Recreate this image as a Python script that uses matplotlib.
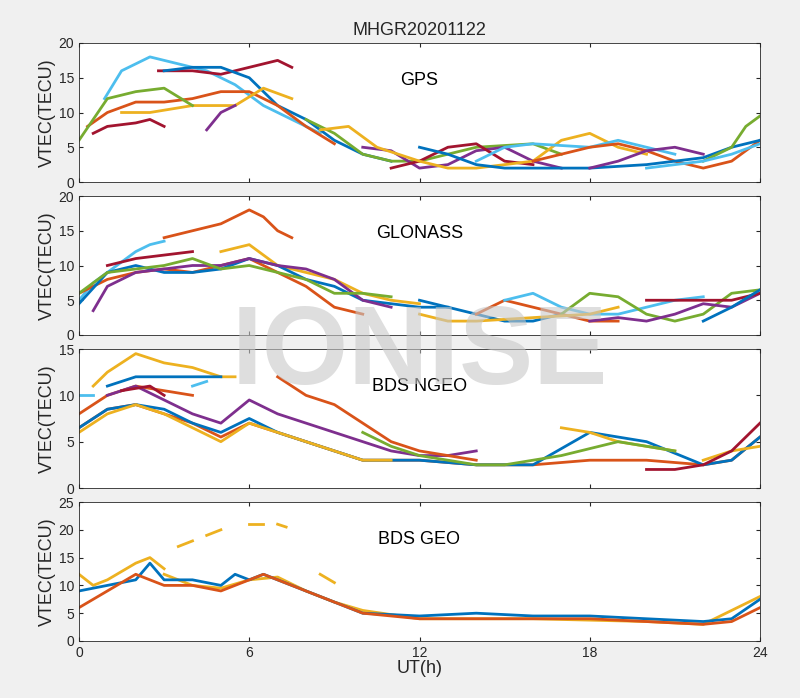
import matplotlib
matplotlib.use("Agg")
import matplotlib.pyplot as plt
plt.rcParams['font.family'] = ['Liberation Sans', 'DejaVu Sans']

C = {'b':'#0072BD','o':'#D95319','y':'#EDB120','p':'#7E2F8E','g':'#77AC30','c':'#4DBEEE','r':'#A2142F'}

# each arc: (color, [(hour, VTEC), ...])
gps_arcs = [
 ('c',[(0.9,12),(1.5,16),(2.5,18),(3.5,17),(4.5,16),(5.5,14),(6.5,11),(7.5,9),(8.5,7)]),
 ('r',[(2.8,16),(4,16),(5,15.5),(6,16.5),(7,17.5),(7.5,16.5)]),
 ('b',[(3,16),(4,16.5),(5,16.5),(6,15),(6.5,13),(7,11),(8,9),(9,6),(10,4),(11,3)]),
 ('o',[(0.3,8),(1,10),(2,11.5),(3,11.5),(4,12),(5,13),(6,13),(7,11),(8,8),(9,5.5)]),
 ('y',[(1.5,10),(2.5,10),(4,11),(5.5,11),(6.5,13.5),(7.5,12)]),
 ('p',[(4.5,7.5),(5,10),(5.5,11)]),
 ('g',[(0,6),(1,12),(2,13),(3,13.5),(4,11)]),
 ('r',[(0.5,7),(1,8),(2,8.5),(2.5,9),(3,8)]),
 ('g',[(8,9),(9,7),(10,4),(11,3),(12,3),(14,5),(16,5.5),(17,4)]),
 ('p',[(10,5),(11,4.5),(12,2),(13,2.5),(14,4.5),(15,5),(16,3),(17,2)]),
 ('r',[(11,2),(12,3),(13,5),(14,5.5),(15,3),(16,2.5)]),
 ('y',[(8.5,7.5),(9.5,8),(10.5,5),(12,3),(13,2),(14,2),(16,3),(17,6),(18,7),(19,5),(20,4)]),
 ('c',[(14,3),(15,5),(16,5.5),(18,5),(19,6),(20,5),(21,4)]),
 ('o',[(16,3),(17,4),(18,5),(19,5.5),(20,4.5),(21,3),(22,2),(23,3),(24,6)]),
 ('b',[(12,5),(13,4),(14,2.5),(15,2),(16,2),(18,2),(20,2.5),(22,3.5),(23,5),(24,6)]),
 ('g',[(22,3),(23,5),(23.5,8),(24,9.5)]),
 ('c',[(20,2),(21,2.5),(22,3),(23,4),(24,5.5)]),
 ('p',[(18,2),(19,3),(20,4.5),(21,5),(22,4)]),
]
glo_arcs = [
 ('o',[(3,14),(4,15),(5,16),(6,18),(6.5,17),(7,15),(7.5,14)]),
 ('c',[(0,5),(0.5,7.5),(1,9),(2,12),(2.5,13),(3,13.5)]),
 ('o',[(0,6),(1,8),(2,9),(3,9.5),(4,9),(5,10),(6,11),(7,9),(8,7),(9,4),(10,3)]),
 ('y',[(5,12),(6,13),(7,10),(8,9),(9,8),(10,6),(11,5),(12,4.5)]),
 ('b',[(0,4.5),(1,9),(2,10),(3,9),(4,9),(5,9.5),(6,11),(7,10),(8,8),(9,7),(10,5),(12,4),(13,4)]),
 ('p',[(0.5,3.5),(1,7),(2,9),(3,9.5),(4,10),(5,10),(6,11),(7,10),(8,9.5),(9,8),(10,5),(11,4)]),
 ('g',[(0,6),(1,9),(2,9.5),(3,10),(4,11),(5,9.5),(6,10),(7,9),(8,8),(9,6),(10,6),(11,5.5)]),
 ('r',[(1,10),(2,11),(3,11.5),(4,12)]),
 ('b',[(12,5),(13,4),(14,3),(15,2),(16,2),(17,3)]),
 ('o',[(14,3),(15,5),(16,4),(17,3),(18,2),(19,2)]),
 ('c',[(15,5),(16,6),(17,4),(18,3),(19,3),(20,4),(21,5),(22,5.5)]),
 ('g',[(17,3),(18,6),(19,5.5),(20,3),(21,2),(22,3),(23,6),(24,6.5)]),
 ('p',[(18,2),(19,2.5),(20,2),(21,3),(22,4.5),(23,4),(24,6)]),
 ('r',[(20,5),(21,5),(22,5),(23,5),(24,6)]),
 ('y',[(12,3),(13,2),(14,2),(16,2.5),(18,3),(19,4)]),
 ('b',[(22,2),(23,4),(24,6.5)]),
]
ngeo_arcs = [
 ('y',[(0.5,11),(1,12.5),(2,14.5),(3,13.5),(4,13),(5,12),(5.5,12)]),
 ('b',[(1,11),(2,12),(3,12),(4,12),(5,12)]),
 ('c',[(0,10),(0.5,10)]),
 ('c',[(4,11),(4.5,11.5)]),
 ('o',[(0,8),(1,10),(2,11),(3,10.5),(4,10)]),
 ('o',[(0,6.5),(1,8.5),(2,9),(3,8),(4,7),(5,5.5),(6,7),(7,6),(8,5),(9,4),(10,3),(12,3),(14,2.5),(16,2.5),(18,3),(20,3),(22,2.5),(23,3),(24,5.5)]),
 ('b',[(0,6.5),(1,8.5),(2,9),(3,8.5),(4,7),(5,6),(6,7.5),(7,6),(8,5),(9,4),(10,3),(12,3),(14,2.5),(16,2.5),(18,6),(20,5),(22,2.5),(23,3),(24,5.5)]),
 ('y',[(0,6),(1,8),(2,9),(3,8),(4,6.5),(5,5),(6,7),(7,6),(8,5),(9,4),(10,3),(11,3)]),
 ('y',[(17,6.5),(18,6),(19,5),(20,4.5),(21,4)]),
 ('y',[(22,3),(23,4),(24,4.5)]),
 ('p',[(1,10),(2,11),(3,9.5),(4,8),(5,7),(6,9.5),(7,8),(8,7),(9,6),(10,5),(11,4),(12,3.5),(13,3.5),(14,4)]),
 ('r',[(1.5,10.5),(2.5,11),(3,10)]),
 ('r',[(20,2),(21,2),(22,2.5),(23,4),(24,7)]),
 ('o',[(7,12),(8,10),(9,9),(10,7),(11,5),(12,4),(13,3.5),(14,3)]),
 ('g',[(10,6),(11,4.5),(12,3.5),(13,3),(14,2.5),(15,2.5),(17,3.5),(19,5),(21,4)]),
]
geo_arcs = [
 ('y',[(0,12),(0.5,10),(1,11),(2,14),(2.5,15),(3,13)]),
 ('y',[(3.5,17),(4,18)]), ('y',[(4.5,19),(5,20)]), ('y',[(6,21),(6.5,21)]),
 ('y',[(7,21),(7.3,20.5)]), ('y',[(8.5,12),(9,10.5)]),
 ('y',[(3,12),(4,10),(5,9.5),(6,11),(7,11.5),(8,9),(9,7),(10,5.5),(12,4),(16,4),(20,3.5),(22,3),(24,8)]),
 ('b',[(0,9),(1,10),(2,11),(2.5,14),(3,11),(4,11),(5,10),(5.5,12),(6,11),(6.5,12),(7,11),(8,9),(9,7),(10,5),(12,4.5),(14,5),(16,4.5),(18,4.5),(20,4),(22,3.5),(23,4),(24,7.5)]),
 ('o',[(0,6),(1,9),(2,12),(3,10),(4,10),(5,9),(6,11),(6.5,12),(7,11),(8,9),(9,7),(10,5),(12,4),(14,4),(16,4),(18,4),(20,3.5),(22,3),(23,3.5),(24,6)]),
]

panels = [('GPS', gps_arcs, 20, [0,5,10,15,20]),
          ('GLONASS', glo_arcs, 20, [0,5,10,15,20]),
          ('BDS NGEO', ngeo_arcs, 15, [0,5,10,15]),
          ('BDS GEO', geo_arcs, 25, [0,5,10,15,20,25])]
xticks = [0,6,12,18,24]

fig = plt.figure(figsize=(8,6.98), dpi=100, facecolor='#f0f0f0')
tops = [43,196,349,502]
H = 698
for (name, arcs, ymax, yt), top in zip(panels, tops):
    ax = fig.add_axes([79/800, 1-(top+139)/H, 681/800, 139/H])
    for c, pts in arcs:
        ax.plot([p[0] for p in pts], [p[1] for p in pts], color=C[c], lw=2)
    ax.set_xlim(0,24); ax.set_ylim(0,ymax)
    ax.set_xticks(xticks); ax.set_yticks(yt)
    ax.tick_params(direction='in', labelsize=10, length=3, top=True, right=True, colors='#262626')
    ax.set_ylabel('VTEC(TECU)', fontsize=13, color='#262626', labelpad=2)
    ax.text(0.5, 0.7, name, transform=ax.transAxes, ha='center', fontsize=13)
    for s in ax.spines.values(): s.set_color('#262626'); s.set_linewidth(0.6)
    if top == 502:
        ax.set_xlabel('UT(h)', fontsize=13, color='#262626', labelpad=0)
    else:
        ax.set_xticklabels([])
    if top == 43:
        ax.set_title('MHGR20201122', fontsize=13, color='#262626')
fig.text(0.525, 1-355/H, 'IONISE', fontsize=80, fontweight='bold', color='#c8c8c8', alpha=0.6, ha='center', va='center')
fig.savefig('out.png', dpi=100, facecolor=fig.get_facecolor())
